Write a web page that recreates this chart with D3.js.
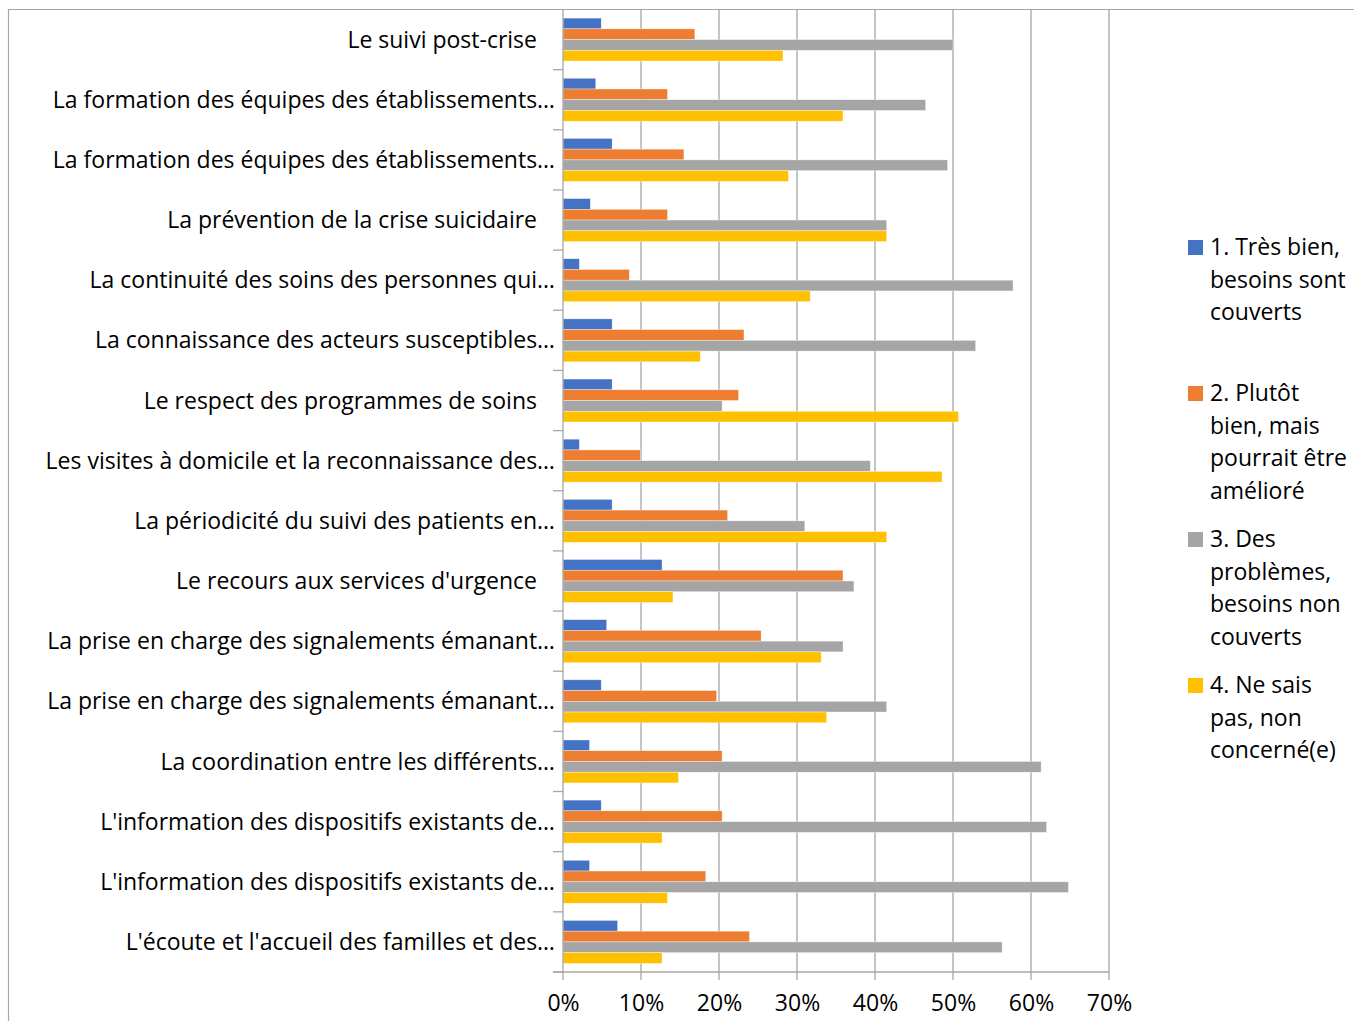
<!DOCTYPE html>
<html><head><meta charset="utf-8">
<script src="https://cdn.jsdelivr.net/npm/d3@7"></script>
<style>body{margin:0;background:#fff}svg{display:block}text{font-family:"Open Sans",Lato,sans-serif;fill:#000}</style>
</head><body><svg id="c" width="1354" height="1021"></svg>
<script>
const categories = [
 "Le suivi post-crise",
 "La formation des équipes des établissements…",
 "La formation des équipes des établissements…",
 "La prévention de la crise suicidaire",
 "La continuité des soins des personnes qui…",
 "La connaissance des acteurs susceptibles…",
 "Le respect des programmes de soins",
 "Les visites à domicile et la reconnaissance des…",
 "La périodicité du suivi des patients en…",
 "Le recours aux services d'urgence",
 "La prise en charge des signalements émanant…",
 "La prise en charge des signalements émanant…",
 "La coordination entre les différents…",
 "L'information des dispositifs existants de…",
 "L'information des dispositifs existants de…",
 "L'écoute et l'accueil des familles et des…"
];
const seriesNames = ["1. Très bien, besoins sont couverts","2. Plutôt bien, mais pourrait être amélioré","3. Des problèmes, besoins non couverts","4. Ne sais pas, non concerné(e)"];
const legendLines = [["1. Très bien,","besoins sont","couverts"],["2. Plutôt","bien, mais","pourrait être","amélioré"],["3. Des","problèmes,","besoins non","couverts"],["4. Ne sais","pas, non","concerné(e)"]];
const colors = ["#4472C4","#ED7D31","#A5A5A5","#FFC000"];
const s1 = [4.9, 4.2, 6.3, 3.5, 2.1, 6.3, 6.3, 2.1, 6.3, 12.7, 5.6, 4.9, 3.4, 4.9, 3.4, 7.0];
const s2 = [16.9, 13.4, 15.5, 13.4, 8.5, 23.2, 22.5, 9.9, 21.1, 35.9, 25.4, 19.7, 20.4, 20.4, 18.3, 23.9];
const s3 = [50.0, 46.5, 49.3, 41.5, 57.7, 52.9, 20.4, 39.4, 31.0, 37.3, 35.9, 41.5, 61.3, 62.0, 64.8, 56.3];
const s4 = [28.2, 35.9, 28.9, 41.5, 31.7, 17.6, 50.7, 48.6, 41.5, 14.1, 33.1, 33.8, 14.8, 12.7, 13.4, 12.7];
const xTicks = [0,10,20,30,40,50,60,70];

const series = [s1,s2,s3,s4];
const svg = d3.select("#c");
const FS = 23;
// chart border
svg.append("path").attr("d","M8.5,1021 V9.5 H1354").attr("fill","none").attr("stroke","#a6a6a6").attr("stroke-width",1.2);

const x = d3.scaleLinear().domain([0,70]).range([563,1109]);
const y = d3.scaleBand().domain(d3.range(categories.length)).range([9.5,972]);
const ys = d3.scaleBand().domain(d3.range(4)).range([0,y.bandwidth()]).paddingOuter(0.8);

// gridlines
svg.append("g").selectAll("line").data(xTicks.slice(1)).join("line")
  .attr("x1",d=>x(d)).attr("x2",d=>x(d)).attr("y1",9.5).attr("y2",980)
  .attr("stroke","#a6a6a6").attr("stroke-width",1.3);

// bars
const g = svg.append("g");
series.forEach((s,si)=>{
  g.append("g").selectAll("rect").data(s).join("rect")
   .attr("x",x(0)).attr("y",(d,i)=>y(i)+ys(si))
   .attr("width",d=>x(d)-x(0)).attr("height",ys.bandwidth())
   .attr("fill",colors[si]).attr("stroke","#fff").attr("stroke-opacity",0.6).attr("stroke-width",0.6);
});

// y axis line and boundary ticks
svg.append("line").attr("x1",x(0)).attr("x2",x(0)).attr("y1",9.5).attr("y2",980).attr("stroke","#a6a6a6").attr("stroke-width",1.3);
const bounds = categories.map((c,i)=>y(i)).concat([y.range()[1]]);
svg.append("g").selectAll("line").data(bounds.slice(1)).join("line")
  .attr("x1",553).attr("x2",x(0)).attr("y1",d=>d).attr("y2",d=>d)
  .attr("stroke","#a6a6a6").attr("stroke-width",1.3);
// x axis
const xa = svg.append("g").attr("transform",`translate(0,${y.range()[1]})`)
  .call(d3.axisBottom(x).tickValues(xTicks).tickFormat(d=>d+"%").tickSize(0).tickPadding(23));
xa.select(".domain").remove();
xa.selectAll("text").attr("font-size",FS).attr("font-family","Open Sans").attr("fill","#000");
svg.append("line").attr("x1",553).attr("x2",x(70)).attr("y1",y.range()[1]).attr("y2",y.range()[1]).attr("stroke","#a6a6a6").attr("stroke-width",1.3);

// category labels
svg.append("g").selectAll("text").data(categories).join("text")
  .attr("x",d=>d.endsWith("…")?555:537).attr("y",(d,i)=>y(i)+y.bandwidth()/2)
  .attr("dy","0.35em").attr("text-anchor","end").attr("font-size",FS).text(d=>d);

// legend
const ly = d3.scaleBand().domain(d3.range(4)).range([231,815]);
const lg = svg.append("g");
legendLines.forEach((lines,i)=>{
  const top = ly(i);
  lg.append("rect").attr("x",1188).attr("y",top+9).attr("width",15).attr("height",15).attr("fill",colors[i]);
  const t = lg.append("text").attr("x",1210).attr("y",top).attr("font-size",FS);
  lines.forEach((l,k)=>t.append("tspan").attr("x",1210).attr("y",top+16+k*32.5).attr("dy","0.35em").text(l));
});
</script></body></html>
